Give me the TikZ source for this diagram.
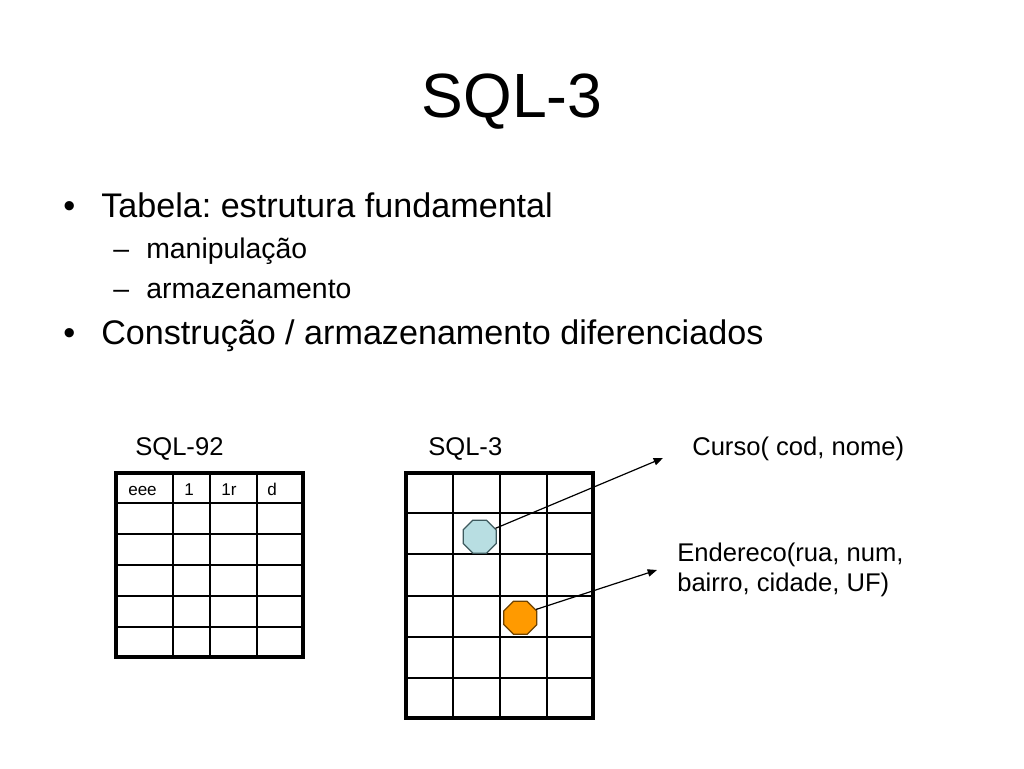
\documentclass[tikz,border=0pt]{standalone}
\usepackage{fontspec}
\setmainfont{Liberation Sans}
\usetikzlibrary{arrows.meta,shapes.geometric}
\frenchspacing
\definecolor{octcyan}{HTML}{B8DEE2}
\definecolor{octcyanline}{HTML}{3E5A5E}
\definecolor{octorange}{HTML}{FF9A00}
\definecolor{octorangeline}{HTML}{6E4200}
\tikzset{
  txt/.style={inner sep=0pt, anchor=base west},
  titletxt/.style={inner sep=0pt, anchor=base, font=\fontsize{46.9pt}{50pt}\selectfont},
  bul/.style={txt, font=\fontsize{25.6pt}{30pt}\selectfont},
  subbul/.style={txt, font=\fontsize{21.3pt}{25pt}\selectfont},
  lbl/.style={txt, font=\fontsize{19.2pt}{23pt}\selectfont},
  celltxt/.style={txt, font=\fontsize{12.8pt}{15pt}\selectfont},
  gridline/.style={line width=1pt, black},
  frame/.style={line width=2.6pt, black},
  oct/.style={regular polygon, regular polygon sides=8, inner sep=0pt, minimum size=26.8pt, line width=0.9pt},
  pointer/.style={line width=0.9pt, black, -{Triangle[length=7pt,width=5.5pt]}}
}
\begin{document}
\begin{tikzpicture}[x=0.75pt,y=-0.75pt]
\useasboundingbox (0,0) rectangle (1024,768);
\fill[white] (0,0) rectangle (1024,768);

% title
\node[titletxt] (title) at (512,117) {SQL-3};

% bullets
\node[bul] (b1) at (63,217) {•};
\node[bul] (t1) at (101,217) {Tabela: estrutura fundamental};
\node[subbul] (d1) at (113,258) {–};
\node[subbul] (s1) at (146,258) {manipulação};
\node[subbul] (d2) at (113,298) {–};
\node[subbul] (s2) at (146,298) {armazenamento};
\node[bul] (b2) at (63,344) {•};
\node[bul] (t2) at (101,344) {Construção / armazenamento diferenciados};

% labels
\node[lbl] (l92) at (135,455) {SQL-92};
\node[lbl] (l3) at (428,455) {SQL-3};
\node[lbl] (curso) at (692,455) {Curso( cod, nome)};
\node[lbl] (end1) at (677,561) {Endereco(rua, num,};
\node[lbl] (end2) at (677,591) {bairro, cidade, UF)};

% table SQL-92
\foreach \x in {173,210,257} \draw[gridline] (\x,473) -- (\x,657);
\foreach \y in {503,534,565,596,627} \draw[gridline] (116,\y) -- (303,\y);
\draw[frame] (116,473) rectangle (303,657);
\node[celltxt] (ceee) at (128,495) {eee};
\node[celltxt] (c1) at (184,495) {1};
\node[celltxt] (c1r) at (221,495) {1r};
\node[celltxt] (cd) at (267,495) {d};

% table SQL-3
\foreach \x in {453,500,547} \draw[gridline] (\x,473) -- (\x,718);
\foreach \y in {513,554,596,637,678} \draw[gridline] (406,\y) -- (593,\y);
\draw[frame] (406,473) rectangle (593,718);

% octagons
\node[oct, fill=octcyan, draw=octcyanline] (cy) at (479.7,536.7) {};
\node[oct, fill=octorange, draw=octorangeline] (orn) at (520.3,617.8) {};

% pointers
\coordinate (p1) at (663,458);
\coordinate (p2) at (657,570);
\draw[pointer] (cy.28) -- (p1);
\draw[pointer] (orn.28) -- (p2);
\end{tikzpicture}
\end{document}
